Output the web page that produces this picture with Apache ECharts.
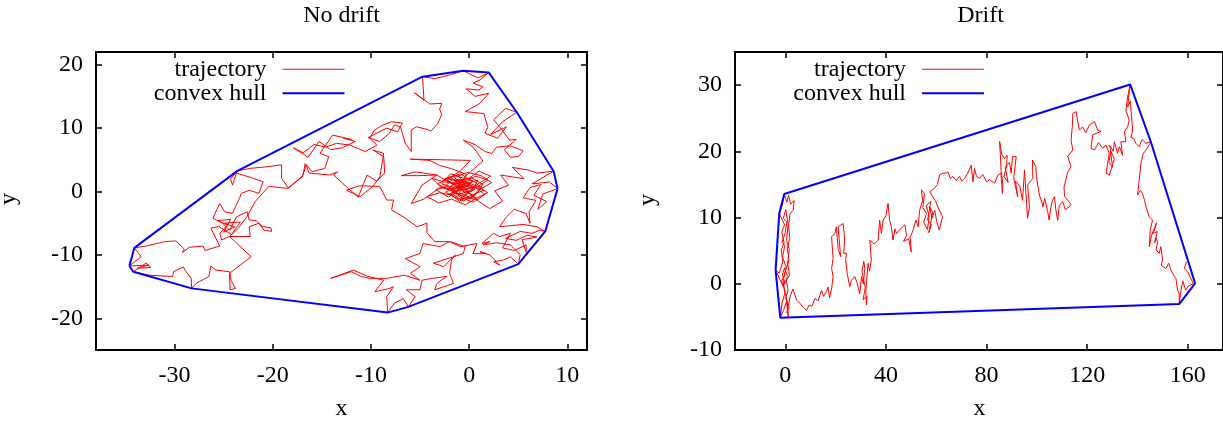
<!DOCTYPE html>
<html>
<head>
<meta charset="utf-8">
<title>Random walk: trajectory and convex hull</title>
<script src="https://cdn.jsdelivr.net/npm/echarts@6/dist/echarts.min.js"></script>
<style>
  html, body { margin: 0; padding: 0; background: #ffffff; }
  #chart { width: 1223px; height: 425px; }
</style>
</head>
<body>
<div id="chart"></div>
<script>
// ---- data -------------------------------------------------------------
const panelTitles = ['No drift', 'Drift'];
const seriesNames = ['trajectory', 'convex hull'];

const xRangeNoDrift = [-38, 12];
const yRangeNoDrift = [-25, 22];
const xTicksNoDrift = [-30, -20, -10, 0, 10];
const yTicksNoDrift = [-20, -10, 0, 10, 20];

const xRangeDrift = [-20, 174];
const yRangeDrift = [-10, 35];
const xTicksDrift = [0, 40, 80, 120, 160];
const yTicksDrift = [-10, 0, 10, 20, 30];

// walker positions (x, y) for the walk without drift
const noDriftPath = [
  [0,0],[-0.8,0.9],[-1.9,0.2],[-0.7,-0.8],[0.6,0.4],[-0.3,1.6],[-1.6,1.1],[-2.5,2.0],[-1.2,2.6],[-0.4,1.2],
  [0.9,1.8],[0.3,0.1],[-1.1,-0.4],[-2.2,0.8],[-3.4,0.3],[-2.1,-0.9],[-0.9,0.6],[0.2,2.2],[1.4,1.1],[0.5,-0.6],
  [-0.6,-1.5],[-1.8,-0.3],[-1.0,1.3],[-2.6,1.5],[-3.8,2.1],[-2.9,0.7],[-1.3,0.1],[0.0,1.0],[1.1,0.3],[2.3,1.4],
  [1.2,2.5],[-0.2,3.0],[-1.5,2.2],[-0.5,0.8],[-1.7,-0.6],[-3.0,-0.2],[-4.3,-0.8],[-3.1,-1.8],[-1.8,-1.2],[-0.4,-2.1],
  [0.8,-1.0],[1.9,-0.2],[0.7,0.9],[-0.6,0.2],[-1.4,1.7],[-0.1,2.0],[1.0,3.2],[2.2,2.4],[1.0,1.3],[-0.3,-0.3],
  [-2.3,1.9],[-0.9,2.8],[0.4,1.6],[-0.8,0.3],[-2.0,-0.4],[-1.0,-1.5],[0.2,-0.6],[1.5,0.2],[0.6,1.5],[-0.6,2.1],
  [-1.9,2.8],[-2.8,1.2],[-1.5,0.6],[-0.2,0.0],[0.9,-1.3],[-0.3,-1.0],[-1.4,-0.1],[-2.6,0.6],[-1.7,1.9],[-0.5,1.7],
  [0.7,2.4],[1.9,1.8],[0.8,0.7],[-0.4,0.5],[-1.3,1.4],[-2.2,0.3],[-3.2,1.2],[-2.0,2.3],[-0.7,1.0],[0.5,0.8],
  [1.6,-0.5],[0.4,-1.7],[-0.9,-0.9],[-2.0,0.5],[-1.2,1.9],[0.1,1.2],
  [-1.2,0.5],[-0.4,2.4],[0.5,3.6],[1.4,4.8],[1.1,5.5],[0.4,7.0],[-0.6,8.1],[0.6,7.4],[1.6,6.3],[2.3,6.0],
  [2.8,7.0],[4.2,7.2],[5.5,6.4],[5.0,5.5],[4.2,5.4],[3.6,6.6],[4.8,8.2],[4.1,8.1],[3.3,9.8],[2.5,11.3],
  [3.7,13.1],[4.85,12.5],[3.4,11.0],[2.2,9.0],[3.8,10.2],[2.9,8.4],[1.6,9.2],[1.9,10.1],[1.5,12.3],[-0.4,12.6],
  [1.1,13.9],[2.0,15.5],[0.6,15.0],[-0.3,16.2],[1.0,16.0],[1.4,16.5],[0.4,17.1],
  [1.1,17.6],[2.0,18.75],[0.9,17.9],[-0.6,19.05],[-1.9,18.4],[-3.5,17.8],[-4.75,18.1],[-4.6,14.4],[-5.6,15.6],[-4.0,13.8],
  [-2.8,13.9],[-3.0,13.0],[-2.8,12.1],[-3.2,10.7],[-3.9,9.5],[-4.3,9.8],
  [-5.35,10.2],[-5.9,9.7],[-5.9,6.3],[-6.5,7.6],[-7.0,10.2],[-7.6,10.5],[-8.1,9.2],[-9.1,7.9],[-10.3,8.5],[-8.4,10.0],
  [-7.3,9.4],[-6.8,10.8],[-7.9,11.0],[-8.9,10.4],[-9.7,9.6],
  [-10.1,8.4],[-9.4,7.3],[-10.6,6.3],[-12.1,7.3],[-13.5,7.6],[-14.6,7.0],[-15.8,7.4],[-16.9,6.1],[-17.9,6.9],[-16.4,5.4],
  [-15.3,7.9],[-14.1,6.6],[-12.9,6.9],[-11.6,7.9],[-12.8,8.4],
  [-12.0,8.2],[-13.9,8.9],[-15.2,6.0],[-14.3,5.5],[-14.7,3.65],
  [-16.0,3.1],[-16.7,4.4],[-16.9,2.6],[-18.4,0.5],[-19.1,2.1],[-19.1,4.2],[-20.6,3.9],[-22.3,3.65],[-23.6,3.25],[-24.3,2.0],
  [-24.1,1.0],[-23.7,2.9],[-22.2,2.2],[-21.0,1.55],[-21.4,-0.3],[-22.4,0.2],[-23.2,-0.3],[-23.4,-1.1],[-24.1,-3.45],[-24.9,-3.2],
  [-25.4,-1.9],[-26.1,-4.2],[-25.1,-5.0],[-24.4,-6.1],[-23.7,-4.0],[-22.6,-3.2],[-22.4,-4.5],[-21.7,-4.6],[-21.0,-5.55],[-20.2,-5.7],
  [-20.1,-6.3],[-20.9,-6.1],[-21.4,-5.0],[-22.4,-5.55],[-22.3,-7.1],[-24.4,-7.1],[-25.2,-7.65],[-25.4,-6.6],[-24.6,-5.3],
  [-25.6,-4.6],[-24.3,-4.4],[-25.0,-6.4],[-23.9,-5.6],[-24.9,-5.0],[-23.3,-4.8],[-24.2,-6.8],[-25.5,-5.5],[-26.3,-5.8],
  [-25.4,-8.6],[-26.9,-9.3],[-27.1,-8.6],[-28.5,-8.8],[-29.2,-9.65],[-29.0,-9.1],[-29.85,-7.8],[-31.0,-7.9],[-32.9,-8.6],[-34.1,-8.9],
  [-34.1,-9.2],[-33.4,-10.3],[-34.6,-11.75],[-32.6,-11.6],[-33.8,-12.1],[-32.4,-12.0],[-32.9,-11.3],[-34.2,-12.65],[-32.6,-13.2],[-30.2,-13.4],
  [-30.1,-12.65],[-29.1,-11.9],[-28.9,-12.5],[-28.3,-13.7],[-28.26,-15.28],[-27.8,-14.5],[-26.5,-13.4],[-26.3,-11.75],[-25.8,-12.4],[-24.4,-12.65],
  [-24.25,-14.0],[-23.8,-15.3],[-24.35,-15.5],[-24.4,-12.9],[-22.2,-10.3],[-24.4,-7.1],
  [-23.5,-5.8],[-22.6,-3.9],[-21.8,-1.6],[-20.4,0.8],[-18.5,0.5],[-17.0,2.3],[-16.6,4.2],[-16.3,2.9],[-14.2,2.6],[-13.4,3.1],
  [-13.8,2.6],[-12.4,0.6],[-11.3,-0.9],[-10.4,2.6],[-9.4,1.6],[-8.6,2.9],[-8.7,5.5],[-9.8,6.55],[-8.7,6.0],[-9.1,2.3],
  [-9.8,0.8],[-11.1,-0.8],[-12.5,0.2],[-11.2,0.9],[-9.1,0.8],[-8.4,-1.35],[-7.7,-1.35],[-7.9,-2.9],[-6.7,-4.0],[-5.3,-5.55],
  [-4.3,-5.0],[-4.3,-6.5],[-3.5,-7.9],
  [-2.0,-7.9],[-3.0,-8.7],[-4.7,-8.2],[-5.0,-9.75],[-6.5,-10.6],[-5.0,-11.85],[-6.0,-12.9],[-5.0,-14.0],[-6.6,-13.2],[-8.4,-13.7],
  [-10.1,-13.7],[-11.0,-13.4],[-12.0,-12.65],[-14.1,-13.7],[-11.8,-12.4],[-10.3,-13.4],[-8.7,-14.0],[-9.6,-15.8],[-8.1,-15.3],[-7.7,-15.0],
  [-8.4,-16.6],[-8.3,-19.1],[-7.6,-17.6],[-6.7,-16.9],[-6.2,-18.2],[-5.5,-16.6],[-6.4,-15.5],[-5.0,-15.5],[-4.8,-14.0],[-3.8,-13.7],
  [-2.3,-13.4],[-3.3,-14.5],[-3.5,-15.5],[-1.6,-14.5],[-2.0,-12.9],[-1.8,-10.8],[-1.4,-10.0],[-2.6,-11.85],[-3.65,-11.3],[-1.6,-10.3],
  [-0.6,-9.8],[-0.4,-8.7],[-1.95,-7.9],[-0.9,-8.7],[0.8,-8.2],[0.4,-9.8],[1.8,-9.8],
  [1.1,-9.5],[2.1,-10.0],[3.1,-11.6],[2.5,-11.1],[3.5,-10.8],[4.2,-10.3],[5.0,-11.45],[5.2,-10.0],[4.2,-8.4],[2.8,-8.1],
  [1.45,-8.4],[2.1,-7.9],[1.3,-8.2],[2.5,-6.6],[3.1,-7.1],[4.2,-6.6],
  [3.4,-8.9],[4.6,-9.3],[5.8,-8.4],[5.8,-9.6],[5.4,-7.6],[6.9,-7.2],[5.9,-6.9],[4.8,-7.7],[3.7,-7.4],
  [5.2,-6.3],[6.4,-6.6],[7.2,-6.1],[7.75,-6.3],
  [6.9,-5.55],[5.5,-5.2],[3.1,-5.55],[3.8,-4.0],[4.6,-2.8],[5.8,-3.5],[6.2,-5.0],[6.1,-3.2],[6.8,-1.4],[5.5,-1.0],
  [6.2,0.6],[7.3,1.1],[6.6,-0.6],[7.9,-1.6],[7.0,-2.8],[7.5,-0.4],[9.0,0.45],[8.2,1.5],[6.4,1.2],[7.6,2.3],[8.6,3.2],[6.9,2.9],[6.0,3.4],[4.4,3.8],
  [5.6,2.0],[3.2,2.6],[4.0,1.0],[2.6,0.1],[3.4,-1.5],[2.1,-2.7],[1.0,-1.6],
  [0.1,-0.4],[-1.3,0.9],[-2.4,-0.1],[-1.1,-1.2],[0.4,-0.9],[-0.5,0.6],[-2.0,1.4],[-3.3,2.6],[-5.0,2.5],[-6.9,2.5],
  [-5.5,3.1],[-3.3,2.6],[-4.8,1.0],[-5.9,-1.9],[-4.6,-1.2],[-3.0,0.6],[-1.5,0.4],[-0.2,1.4],[1.3,0.6],[0.3,-1.1],
  [-1.0,-0.2],[-0.3,2.7],[-1.8,3.6],[-3.0,4.1],[-4.0,4.9],[-6.0,5.1],[-2.6,5.0],[0.1,4.9],[-0.9,3.2],[-2.2,2.0],
  [-0.8,1.5],[0.4,0.3],[-0.6,-0.9],[-1.7,0.3]
];

// walker positions (x, y) for the walk with drift along x
const driftPath = [
  [0,0],[-1.2,1.3],[-0.3,2.4],[0.9,1.1],[-0.8,-0.4],[-2.1,0.6],[-3.86,2.07],[-2.4,1.6],[-1.0,3.3],[-1.6,5.1],
  [-0.5,6.2],[-1.4,7.8],[-0.3,8.9],[-2.41,10.63],[-1.2,11.8],[-0.42,13.55],[0.6,12.3],[1.3,13.4],[2.1,12.0],[3.5,12.6],
  [3.2,11.2],[1.8,10.5],[1.3,8.6],[1.8,6.9],[0.8,5.3],[1.5,3.6],[0.4,2.3],[-0.9,0.6],[-0.2,-1.5],[-1.3,-2.9],
  [-2.0,-5.13],[-0.6,-3.9],[0.5,-2.7],[1.2,-5.0],[0.8,-3.1],[-0.2,-0.9],[-1.5,0.4],[-0.4,1.1],[0.3,2.6],[-1.1,4.0],
  [-0.2,5.8],[-1.3,6.3],[-0.1,7.6],[0.6,9.3],[-0.8,9.9],[0.2,11.2],[1.1,9.0],[0.5,6.5],[1.6,5.2],[0.9,3.1],
  [1.7,1.3],[0.4,0.5],[1.1,-0.9],[0.2,-2.2],[1.5,-3.6],[0.6,-4.4],[1.9,-2.0],
  [2.2,-1.6],[3.0,-0.8],[4.5,-2.5],[6.0,-3.0],[7.2,-3.6],[8.4,-4.0],[9.5,-3.2],[10.6,-3.4],[11.8,-2.2],[13.0,-2.6],
  [14.4,-1.0],[15.2,-1.9],[16.3,-1.2],[17.0,-0.5],[17.6,-2.1],[18.4,-0.8],[19.0,1.1],[18.4,2.3],[19.0,3.8],[18.4,7.1],
  [19.7,7.6],[20.3,8.6],[21.0,5.3],[22.0,4.1],[21.0,8.6],[23.0,9.1],[23.6,6.6],[23.2,4.6],[24.3,4.6],[24.0,3.6],
  [24.6,1.6],[25.6,-0.45],[26.3,0.5],[27.6,1.1],[28.4,0.3],[29.6,-1.5],[30.3,1.1],[31.0,0.0],[31.6,2.3],[31.2,3.4],
  [30.5,1.8],[31.8,-0.6],[30.9,-2.4],[32.5,-1.9],
  [32.3,-3.2],[32.0,-1.2],[32.9,3.1],[33.5,1.9],[34.2,3.6],[33.6,6.6],[35.4,6.0],[36.9,6.6],[37.5,9.6],[38.2,7.6],
  [38.9,9.6],[40.0,10.3],[40.85,12.14],[41.5,9.5],[42.2,8.6],[42.8,6.6],[43.6,8.3],[44.2,7.6],[45.5,8.2],[47.5,8.9],
  [48.2,7.3],[47.0,6.4],[49.0,6.8],[50.1,4.8],[49.6,7.0],[50.8,8.1],[51.9,9.6],[52.8,8.6],[53.4,11.1],[54.6,12.6],
  [54.1,14.2],[55.3,13.65],[54.7,11.5],[56.1,10.6],[55.0,9.3],[56.5,8.2],
  [57.2,10.2],[56.0,11.8],[57.8,12.4],[56.6,9.6],[58.1,8.9],[57.0,7.7],[58.6,10.8],
  [57.4,11.6],[58.3,9.9],[59.4,11.1],[60.2,9.4],
  [61.2,8.1],[62.5,10.1],[61.0,11.3],[59.8,12.4],[57.4,13.9],[58.7,14.2],[60.5,15.0],[61.4,16.5],[62.7,16.7],[63.9,16.7],
  [64.7,16.9],[65.6,15.9],[66.6,16.2],[68.0,15.6],[69.2,16.2],[70.2,15.5],[71.3,15.9],[72.5,16.7],[73.9,17.9],[74.6,15.4],
  [75.2,17.4],[76.0,16.2],[77.2,15.9],[78.5,16.5],[80.0,15.4],[81.2,15.7],[82.4,15.4],[83.2,15.2],[84.5,16.4],[85.7,16.7],
  [86.3,13.65],[86.5,15.0],[85.8,17.0],[85.2,21.5],[86.0,19.6],[87.1,18.9],[88.2,19.4],[88.0,17.8],
  [86.9,16.2],[88.6,15.3],[87.4,17.6],[89.1,18.3],
  [89.8,16.7],[90.3,19.2],
  [91.8,19.2],[90.8,16.0],[92.4,13.1],[91.5,15.5],[93.2,14.8],[94.3,12.6],[95.1,17.2],[95.6,14.0],[96.3,9.9],[97.1,11.6],
  [96.3,14.9],[98.4,15.9],[98.25,18.7],[99.6,17.7],[99.8,16.2],[101.0,13.4],[102.2,12.1],[102.4,11.6],[103.1,12.9],[104.3,10.9],
  [104.9,9.6],[105.5,11.4],[106.2,12.6],[107.0,13.15],[107.6,11.0],[108.3,9.6],[108.9,11.8],[110.3,12.4],[111.3,11.2],[112.8,11.6],
  [113.6,12.0],[111.0,13.2],[110.8,14.6],[111.5,15.7],[112.2,16.8],[113.6,17.7],[112.3,19.2],[114.3,20.2],[113.6,21.7],[114.1,23.8],
  [114.3,25.7],[115.6,26.0],[116.2,24.6],[116.9,23.2],
  [118.2,23.7],[119.5,22.8],[120.9,24.0],[122.9,24.5],[124.2,23.2],[125.5,23.0],[122.2,22.5],[121.5,20.45],[122.9,20.2],[124.5,21.3],
  [126.2,20.45],[127.5,20.95],[128.2,20.2],[128.8,19.7],[127.5,16.7],[128.8,16.4],[129.5,17.2],[130.8,18.9],[129.5,19.95],
  [128.6,18.4],[130.1,17.6],[129.0,20.9],[130.4,20.0],
  [130.8,21.45],
  [131.5,21.2],[132.1,19.7],[132.8,20.7],[134.1,19.4],[133.4,21.45],[135.4,21.45],[136.1,21.2],[134.8,23.0],[136.1,23.7],[136.7,24.7],
  [135.4,26.2],[136.1,28.25],[137.1,30.1],[136.6,28.6],[136.1,26.7],[137.2,27.6],[137.6,25.4],[138.1,23.2],[137.4,22.1],[138.5,21.9],
  [139.4,21.2],[140.7,20.7],[141.8,21.8],[143.4,21.2],[145.3,21.45],[143.8,20.4],[142.2,19.6],[141.4,18.2],[140.7,15.7],[140.0,13.4],
  [141.2,14.1],[142.0,13.65],[142.8,12.6],[143.4,11.6],[144.7,10.1],[146.0,9.6],[145.1,8.2],[144.7,5.6],[145.6,7.3],[146.7,8.4],
  [147.6,9.2],[146.3,7.6],[147.9,7.9],[146.9,6.2],
  [147.2,7.0],[148.0,6.35],[147.4,5.1],[148.65,4.6],[149.3,5.6],[150.0,3.6],[149.4,2.8],[151.3,2.3],[152.4,3.1],[153.3,2.1],
  [154.5,1.2],[155.3,0.8],[155.9,-0.95],[156.6,-1.5],[156.6,-3.07],[157.2,-1.2],[158.0,0.4],[159.2,-0.95],[160.4,-0.3],[162.2,0.0],
  [162.9,0.06],[160.0,1.8],[158.6,2.3],[159.5,3.3]
];

// ---- helpers ----------------------------------------------------------
// Andrew's monotone chain; returns a closed polygon (first point repeated)
function convexHull(points) {
  const pts = points.map(p => p.slice()).sort((a, b) => a[0] - b[0] || a[1] - b[1]);
  const cross = (o, a, b) => (a[0] - o[0]) * (b[1] - o[1]) - (a[1] - o[1]) * (b[0] - o[0]);
  const lower = [];
  for (const p of pts) {
    while (lower.length >= 2 && cross(lower[lower.length - 2], lower[lower.length - 1], p) <= 0) lower.pop();
    lower.push(p);
  }
  const upper = [];
  for (let i = pts.length - 1; i >= 0; i--) {
    const p = pts[i];
    while (upper.length >= 2 && cross(upper[upper.length - 2], upper[upper.length - 1], p) <= 0) upper.pop();
    upper.push(p);
  }
  lower.pop();
  upper.pop();
  const hull = lower.concat(upper);
  hull.push(hull[0].slice());
  return hull;
}

const FONT = 'Liberation Serif';
const INK = '#000000';
const RED = '#ff0000';
const BLUE = '#0000ff';

function tickStyle(values) {
  return { show: true, inside: true, length: 6, customValues: values, lineStyle: { color: INK, width: 1.5 } };
}

// axis lines stay hidden (the grid frame is the border) and are pinned to the frame edges
const hiddenLine = { show: false, onZero: false };

function xAxes(gridIndex, range, ticks) {
  return [
    {
      type: 'value', gridIndex, position: 'bottom', min: range[0], max: range[1],
      axisLine: hiddenLine, splitLine: { show: false },
      axisTick: tickStyle(ticks),
      axisLabel: { customValues: ticks, margin: 14, color: INK, fontFamily: FONT, fontSize: 24 }
    },
    {
      type: 'value', gridIndex, position: 'top', min: range[0], max: range[1],
      axisLine: hiddenLine, splitLine: { show: false },
      axisTick: tickStyle(ticks), axisLabel: { show: false }
    }
  ];
}

function yAxes(gridIndex, range, ticks) {
  return [
    {
      type: 'value', gridIndex, position: 'left', min: range[0], max: range[1],
      axisLine: hiddenLine, splitLine: { show: false },
      axisTick: tickStyle(ticks),
      axisLabel: { customValues: ticks, margin: 13, color: INK, fontFamily: FONT, fontSize: 24 }
    },
    {
      type: 'value', gridIndex, position: 'right', min: range[0], max: range[1],
      axisLine: hiddenLine, splitLine: { show: false },
      axisTick: tickStyle(ticks), axisLabel: { show: false }
    }
  ];
}

function panelSeries(panel, path) {
  const axisIndex = panel * 2;
  return [
    {
      type: 'line', name: seriesNames[0], xAxisIndex: axisIndex, yAxisIndex: axisIndex,
      data: path, symbol: 'none', showSymbol: false, silent: true, z: 2,
      lineStyle: { color: RED, width: 1 }, itemStyle: { color: RED }
    },
    {
      type: 'line', name: seriesNames[1], xAxisIndex: axisIndex, yAxisIndex: axisIndex,
      data: convexHull(path), symbol: 'none', showSymbol: false, silent: true, z: 3,
      lineStyle: { color: BLUE, width: 2 }, itemStyle: { color: BLUE }
    }
  ];
}

function legendEntry(name, right, top, thickness) {
  return {
    data: [name], right, top, orient: 'horizontal', align: 'right',
    icon: 'rect', itemWidth: 62, itemHeight: thickness, padding: 0,
    selectedMode: false,
    textStyle: { color: INK, fontFamily: FONT, fontSize: 24, padding: [0, 11, 0, 0] }
  };
}

function label(text, x, y, rotation) {
  return {
    type: 'text', x, y, rotation: rotation || 0, silent: true,
    style: { text, fill: INK, fontFamily: FONT, fontSize: 24, align: 'center', verticalAlign: 'middle' }
  };
}

// ---- chart ------------------------------------------------------------
const chart = echarts.init(document.getElementById('chart'), null, { renderer: 'canvas' });

chart.setOption({
  animation: false,
  backgroundColor: '#ffffff',
  textStyle: { fontFamily: FONT },
  grid: [
    { left: 96, top: 52, width: 491, height: 298, show: true, borderColor: INK, borderWidth: 2, backgroundColor: 'transparent' },
    { left: 735, top: 52, width: 489, height: 298, show: true, borderColor: INK, borderWidth: 2, backgroundColor: 'transparent' }
  ],
  xAxis: [].concat(xAxes(0, xRangeNoDrift, xTicksNoDrift), xAxes(1, xRangeDrift, xTicksDrift)),
  yAxis: [].concat(yAxes(0, yRangeNoDrift, yTicksNoDrift), yAxes(1, yRangeDrift, yTicksDrift)),
  legend: [
    legendEntry(seriesNames[0], 878.5, 57.3, 1),
    legendEntry(seriesNames[1], 878.5, 81.3, 2),
    legendEntry(seriesNames[0], 239, 57.3, 1),
    legendEntry(seriesNames[1], 239, 81.3, 2)
  ],
  series: [].concat(panelSeries(0, noDriftPath), panelSeries(1, driftPath)),
  graphic: [
    label(panelTitles[0], 341.5, 15.7),
    label(panelTitles[1], 980.5, 15.7),
    label('x', 341.5, 409),
    label('x', 979.5, 409),
    label('y', 9, 199, Math.PI / 2),
    label('y', 648, 200, Math.PI / 2)
  ]
});
</script>
</body>
</html>
